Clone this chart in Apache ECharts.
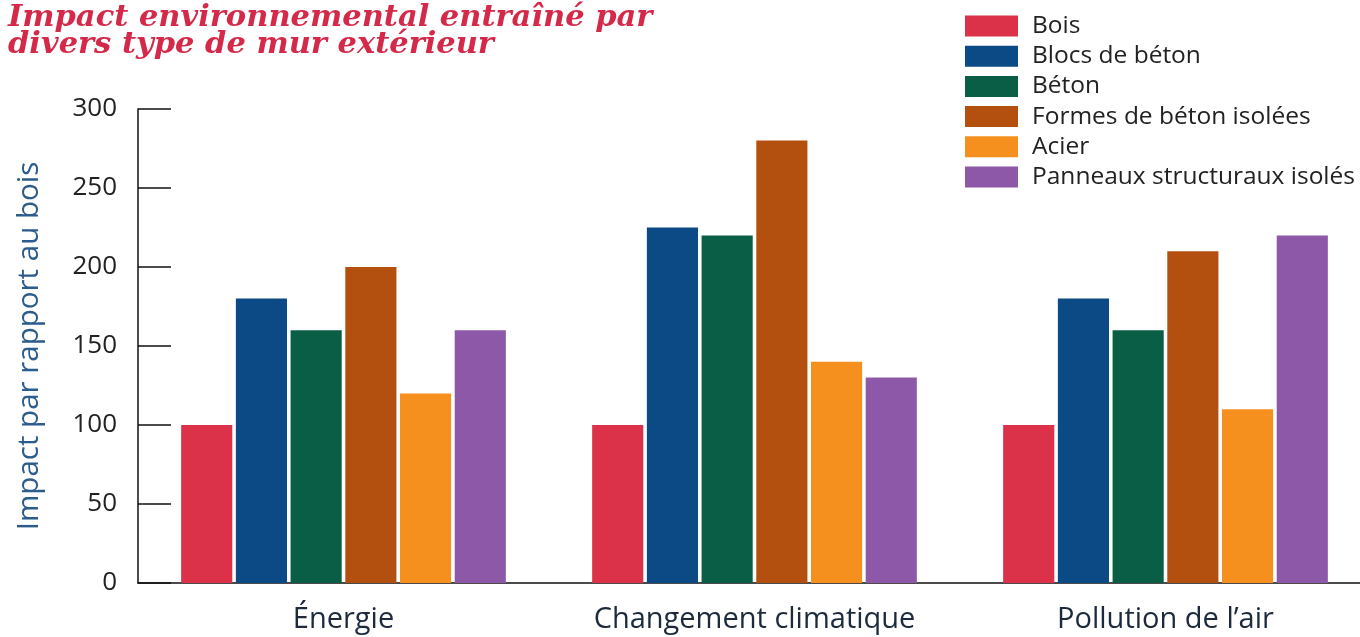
<!DOCTYPE html>
<html><head><meta charset="utf-8">
<script src="https://cdn.jsdelivr.net/npm/echarts@6/dist/echarts.min.js"></script>
<style>html,body{margin:0;padding:0;background:#fff;overflow:hidden}#c{width:1371px;height:637px}</style>
</head><body><div id="c"></div>
<script>
const categories = ['Énergie', 'Changement climatique', 'Pollution de l\u2019air'];
const seriesNames = ['Bois', 'Blocs de béton', 'Béton', 'Formes de béton isolées', 'Acier', 'Panneaux structuraux isolés'];
const bois = [100, 100, 100];
const blocs = [180, 225, 180];
const beton = [160, 220, 160];
const formes = [200, 280, 210];
const acier = [120, 140, 110];
const panneaux = [160, 130, 220];
const yTicks = [0, 50, 100, 150, 200, 250, 300];
const colors = ['#dc3249', '#0c4a86', '#0b5e46', '#b3500f', '#f5901f', '#8e58a8'];
const values = [bois, blocs, beton, formes, acier, panneaux];

const chart = echarts.init(document.getElementById('c'));
chart.setOption({
  animation: false,
  backgroundColor: '#fff',
  title: {
    text: 'Impact environnemental entraîné par\ndivers type de mur extérieur',
    left: 3, top: 0,
    textStyle: { fontFamily: 'DejaVu Serif', fontStyle: 'italic', fontWeight: 'bold', fontSize: 30.5, color: '#d5294a', lineHeight: 27 }
  },
  legend: {
    orient: 'vertical', left: 960, top: 8.5,
    itemWidth: 53, itemHeight: 21, itemGap: 5.2,
    icon: 'rect',
    textStyle: { fontFamily: 'Open Sans', fontSize: 24.5, color: '#222', padding: [0, 0, 0, 9] },
    data: seriesNames
  },
  grid: { left: 138, right: 0, top: 109, bottom: 54, containLabel: false },
  xAxis: {
    type: 'category', data: categories,
    axisLine: { lineStyle: { color: '#111', width: 1.5 } },
    axisTick: { inside: true, length: 12, lineStyle: { color: '#111', width: 1.5 } },
    axisLabel: { interval: 0, fontFamily: 'Open Sans', fontSize: 29, color: '#1c2a3c', margin: 22 }
  },
  yAxis: {
    type: 'value', min: 0, max: 300, interval: 50,
    name: 'Impact par rapport au bois', nameLocation: 'middle', nameGap: 93, nameRotate: 90,
    nameTextStyle: { fontFamily: 'Open Sans', fontSize: 29.5, color: '#2b5c8c' },
    axisLine: { show: true, lineStyle: { color: '#111', width: 1.5 } },
    axisTick: { show: true, inside: true, length: 33, lineStyle: { color: '#111', width: 1.5 } },
    splitLine: { show: false },
    axisLabel: { fontFamily: 'Open Sans', fontSize: 26, color: '#222', margin: 21,
      formatter: v => yTicks.includes(v) ? String(v) : '' }
  },
  series: seriesNames.map((n, i) => ({
    name: n, type: 'bar', data: values[i],
    barGap: '7%', barCategoryGap: '21%',
    itemStyle: { color: colors[i] }
  }))
});
</script></body></html>
